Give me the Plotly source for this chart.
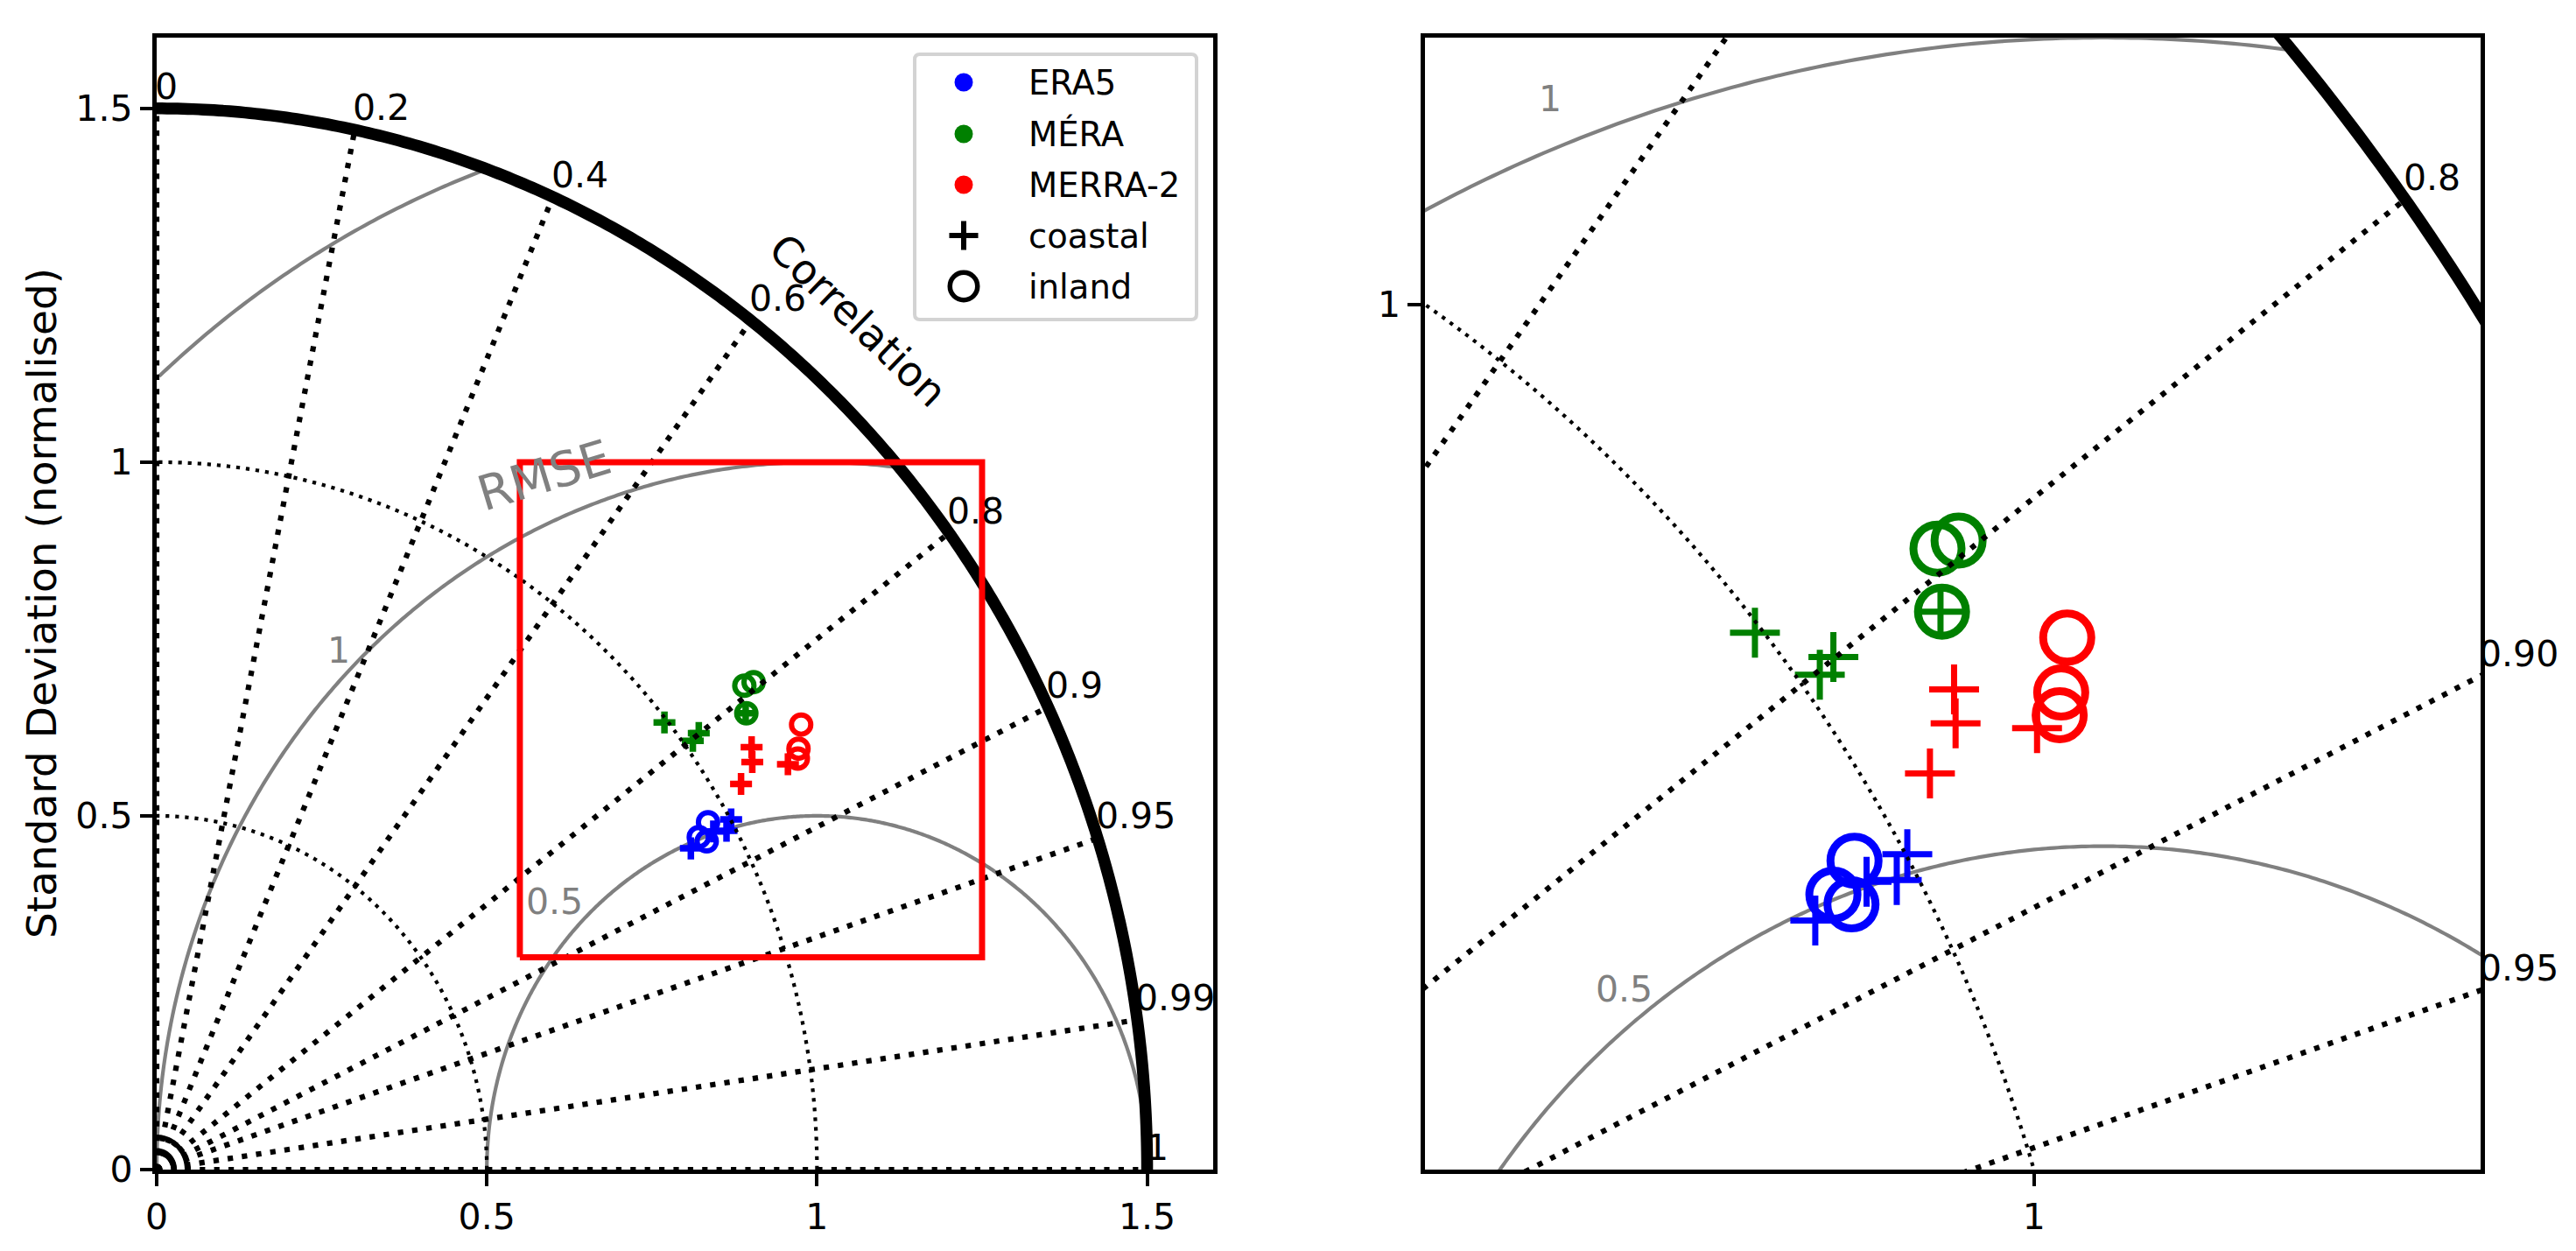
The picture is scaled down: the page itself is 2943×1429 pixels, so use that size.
import numpy as np
import plotly.graph_objects as go

W, H = 2943, 1429

# Normalised std dev coordinates (x = along obs axis, y = perpendicular)
era5_coastal_x = [0.870, 0.863, 0.843, 0.809]
era5_coastal_y = [0.495, 0.479, 0.478, 0.454]
era5_inland_x = [0.835, 0.821, 0.833]
era5_inland_y = [0.491, 0.470, 0.464]

mera_coastal_x = [0.769, 0.812, 0.821, 0.892]
mera_coastal_y = [0.632, 0.606, 0.617, 0.645]
mera_inland_x = [0.890, 0.904, 0.893]
mera_inland_y = [0.684, 0.689, 0.645]

merra_coastal_x = [0.901, 0.902, 0.885, 0.956]
merra_coastal_y = [0.597, 0.576, 0.545, 0.573]
merra_inland_x = [0.976, 0.972, 0.971]
merra_inland_y = [0.629, 0.595, 0.581]

models = ["ERA5", "MÉRA", "MERRA-2"]
model_colors = ["#0000ff", "#008000", "#ff0000"]
coastal_x = [era5_coastal_x, mera_coastal_x, merra_coastal_x]
coastal_y = [era5_coastal_y, mera_coastal_y, merra_coastal_y]
inland_x = [era5_inland_x, mera_inland_x, merra_inland_x]
inland_y = [era5_inland_y, mera_inland_y, merra_inland_y]

corr_ticks = [0, 0.2, 0.4, 0.6, 0.8, 0.9, 0.95, 0.99, 1]
corr_labels = ["0", "0.2", "0.4", "0.6", "0.8", "0.9", "0.95", "0.99", "1"]
std_arcs = [0.5, 1]
rmse_arcs = [0.5, 1, 1.5]
origin_arcs = [0.027, 0.046]
std_max = 1.5

zoom_x = [0.55, 1.25]
zoom_y = [0.3, 1.0]

left_ticks = [0, 0.5, 1, 1.5]
left_ticktext = ["0", "0.5", "1", "1.5"]

FONT = "DejaVu Sans"
TICK_SIZE = 41
LEGEND_SIZE = 38.5


def arc(r, n=300):
    t = np.linspace(0, np.pi / 2, n)
    return r * np.cos(t), r * np.sin(t)


def rmse_arc(r, n=600):
    t = np.linspace(0, np.pi, n)
    x = 1 + r * np.cos(t)
    y = r * np.sin(t)
    keep = (x * x + y * y <= std_max ** 2) & (x >= 0)
    return x[keep], y[keep]


def add_line(fig, x, y, xa, ya, color, width, dash="solid"):
    fig.add_trace(go.Scatter(x=x, y=y, xaxis=xa, yaxis=ya, mode="lines", hoverinfo="skip", showlegend=False,
                             line=dict(color=color, width=width, dash=dash, simplify=False)))


def add_markers(fig, x, y, xa, ya, symbol, color, size, width):
    fig.add_trace(go.Scatter(x=x, y=y, xaxis=xa, yaxis=ya, mode="markers", showlegend=False,
                             cliponaxis=False,
                             marker=dict(symbol=symbol, size=size, color=color,
                                         line=dict(color=color, width=width))))


def add_diagram(fig, xa, ya, plus_size, plus_w, circ_size, circ_w):
    # grey rmse circles go under the markers, the dotted grid over them
    for r in rmse_arcs:
        x, y = rmse_arc(r)
        add_line(fig, x, y, xa, ya, "#808080", 4.2)

    for i, c in enumerate(model_colors):
        add_markers(fig, coastal_x[i], coastal_y[i], xa, ya, "cross-thin-open", c, plus_size, plus_w)
        add_markers(fig, inland_x[i], inland_y[i], xa, ya, "circle-open", c, circ_size, circ_w)

    for r in std_arcs:
        x, y = arc(r)
        add_line(fig, x, y, xa, ya, "black", 4.2, "4.2px,6.9px")
    for r in origin_arcs:
        x, y = arc(r, 40)
        add_line(fig, x, y, xa, ya, "black", 5.5)
    for c in corr_ticks:
        s = np.sqrt(1 - c * c)
        add_line(fig, [0, std_max * c], [0, std_max * s], xa, ya, "black", 6.2, "6.2px,10.2px")

    x, y = arc(std_max)
    add_line(fig, x, y, xa, ya, "black", 13.5)


fig = go.Figure()
add_diagram(fig, "x", "y", 17.9, 7.5, 22, 6)
add_diagram(fig, "x2", "y2", 40.7, 7, 55, 9)

# zoom box on the left panel
add_line(fig, [zoom_x[0], zoom_x[1], zoom_x[1], zoom_x[0], zoom_x[0]],
         [zoom_y[0], zoom_y[0], zoom_y[1], zoom_y[1], zoom_y[0]], "x", "y", "#ff0000", 7)

annotations = []


def note(text, x, y, xref, yref, size=TICK_SIZE, color="black", angle=0, xanchor="center",
         yanchor="middle", xshift=0, yshift=0):
    annotations.append(dict(text=text, x=x, y=y, xref=xref, yref=yref, showarrow=False,
                            textangle=angle, xanchor=xanchor, yanchor=yanchor, xshift=xshift, yshift=yshift,
                            font=dict(family=FONT, size=size, color=color), borderpad=0))


# correlation labels, left panel
for c, lab in zip(corr_ticks, corr_labels):
    note(lab, std_max * c, std_max * np.sqrt(1 - c * c), "x", "y", xanchor="left", yanchor="bottom", xshift=-3)

# right panel only keeps what is near the zoom window
note("0.8", std_max * 0.8, std_max * 0.6, "x2", "y2", xanchor="left", yanchor="bottom", xshift=-3)
note("0.90", zoom_x[1], zoom_x[1] * np.sqrt(1 - 0.9 ** 2) / 0.9, "x2", "y2", xanchor="left", yanchor="bottom", xshift=-3)
note("0.95", zoom_x[1], zoom_x[1] * np.sqrt(1 - 0.95 ** 2) / 0.95, "x2", "y2", xanchor="left", yanchor="bottom", xshift=-3)

note("1", 0.276, 0.734, "x", "y", color="#808080")
note("0.5", 0.603, 0.379, "x", "y", color="#808080")
note("1", 0.633, 0.962, "x2", "y2", color="#808080")
note("0.5", 0.682, 0.4115, "x2", "y2", color="#808080")
note("RMSE", 0.587, 0.981, "x", "y", size=55, color="#808080", angle=-17)
note("Correlation", 1.062, 1.201, "x", "y", size=47, angle=44)

# plotly drops the title standoff once automargin is off, so the y title sits on the pixel axis
note("Standard Deviation (normalised)", 47, 689, "x3", "y3", size=47, angle=-90)

# legend, drawn by hand on a full page axis in pixels because the keys are bigger than plotly allows
legend_rows = [94, 153, 211, 269, 327]
legend_labels = models + ["coastal", "inland"]
legend_key_x = 1101
legend_text_x = 1174
for i, c in enumerate(model_colors):
    add_markers(fig, [legend_key_x], [legend_rows[i]], "x3", "y3", "circle", c, 21, 0)
add_markers(fig, [legend_key_x], [legend_rows[3]], "x3", "y3", "cross-thin-open", "black", 23.6, 6)
add_markers(fig, [legend_key_x], [legend_rows[4]], "x3", "y3", "circle-open", "black", 31.5, 5.5)
for lab, row in zip(legend_labels, legend_rows):
    note(lab, legend_text_x, row, "x3", "y3", size=LEGEND_SIZE, xanchor="left")

legend_box = "M1051,62 H1361 Q1367,62 1367,68 V359 Q1367,365 1361,365 H1051 Q1045,365 1045,359 V68 Q1045,62 1051,62 Z"

axis_common = dict(showgrid=False, zeroline=False, showline=True, linecolor="black", linewidth=4.5,
                   mirror=True, ticks="outside", ticklen=14.5, tickwidth=4, tickcolor="black", automargin=False,
                   tickfont=dict(family=FONT, size=TICK_SIZE, color="black"))

fig.update_layout(
    width=W,
    height=H,
    autosize=False,
    margin=dict(l=0, r=0, t=0, b=0),
    paper_bgcolor="white",
    plot_bgcolor="rgba(0,0,0,0)",
    showlegend=False,
    hovermode="closest",
    annotations=annotations,
    shapes=[dict(type="path", path=legend_box, xref="x3", yref="y3", layer="below",
                 fillcolor="white", line=dict(color="#d3d3d3", width=4))],
    xaxis=dict(domain=[179 / W, 1386 / W], range=[0, 1.6], tickvals=left_ticks, ticktext=left_ticktext,
               anchor="y", **axis_common),
    yaxis=dict(domain=[93 / H, 1386 / H], range=[0, 1.6], tickvals=left_ticks, ticktext=left_ticktext,
               anchor="x", **axis_common),
    xaxis2=dict(domain=[1627.5 / W, 2834 / W], range=zoom_x, tickvals=[0.954], ticktext=["1"],
                anchor="y2", **axis_common),
    yaxis2=dict(domain=[93 / H, 1386 / H], range=zoom_y, tickvals=[0.835], ticktext=["1"],
                anchor="x2", **axis_common),
    xaxis3=dict(domain=[0, 1], range=[0, W], visible=False, anchor="y3", automargin=False),
    yaxis3=dict(domain=[0, 1], range=[H, 0], visible=False, anchor="x3", automargin=False),
)

# the page body has a default margin that would push the figure off its size
fig.write_html("out.html", post_script="document.body.style.margin='0';", config={"displayModeBar": False})
